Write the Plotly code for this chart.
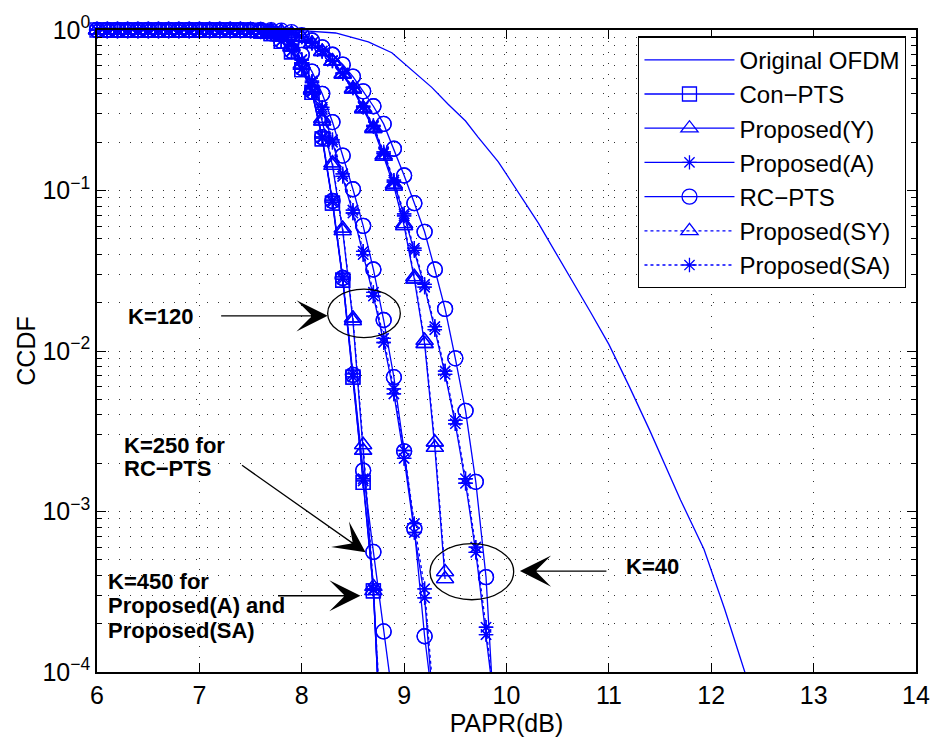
import plotly.graph_objects as go

# ---------------- data ----------------
PAPR_DB = [6.0, 6.1, 6.2, 6.3, 6.4, 6.5, 6.6, 6.7, 6.8, 6.9,
           7.0, 7.1, 7.2, 7.3, 7.4, 7.5, 7.6, 7.7, 7.8, 7.9,
           8.0, 8.1, 8.2, 8.3, 8.4, 8.5, 8.6, 8.7, 8.8, 8.9,
           9.0, 9.1, 9.2, 9.3, 9.4, 9.5, 9.6, 9.7, 9.8, 9.9]

ORIG_X = [6.0, 7.0, 7.5, 8.0, 8.33, 8.65, 8.88, 9.07, 9.27, 9.43, 9.6, 9.72,
          9.92, 10.31, 10.7, 10.82, 11.0, 11.2, 11.4, 11.7, 11.93, 12.13, 12.33]
ORIG_Y = [1, 1, 0.999, 0.99, 0.958, 0.843, 0.722, 0.567, 0.439, 0.345, 0.271, 0.216,
          0.151, 0.0628, 0.0239, 0.0175, 0.011, 0.006, 0.00319, 0.00118, 5.8e-4, 2.48e-4, 9.9e-5]

CON_PTS = [1, 1, 1, 1, 1, 1, 1, 1, 1, 1, 1, 1, 1, 1, 1,
           0.997, 0.985, 0.95, 0.85, 0.73, 0.567, 0.409, 0.21, 0.0834, 0.0276,
           0.00687, 0.00152, 3.2e-4, 1.5e-5]

PROP_Y_K40 = [1, 1, 1, 1, 1, 1, 1, 1, 1, 1, 1, 1, 1, 1, 1,
              1, 0.999, 0.995, 0.98, 0.95, 0.9, 0.82, 0.73, 0.635, 0.528,
              0.427, 0.321, 0.242, 0.1626, 0.106, 0.0602, 0.028, 0.0111, 0.0025, 3.8e-4]
PROP_Y_K120 = [1, 1, 1, 1, 1, 1, 1, 1, 1, 1, 1, 1, 1, 1, 1,
               0.998, 0.99, 0.965, 0.9, 0.78, 0.6, 0.42, 0.27, 0.143, 0.0561,
               0.0154, 0.0024, 3.2e-4, 1.5e-5]

PROP_A_K40 = [1, 1, 1, 1, 1, 1, 1, 1, 1, 1, 1, 1, 1, 1, 1,
              1, 0.999, 0.995, 0.98, 0.952, 0.905, 0.825, 0.735, 0.64, 0.535,
              0.435, 0.33, 0.25, 0.17, 0.113, 0.0694, 0.0423, 0.025, 0.0136, 0.00716,
              0.00352, 0.0015, 5.57e-4, 1.71e-4, 5e-5]
PROP_A_K120 = [1, 1, 1, 1, 1, 1, 1, 1, 1, 1, 1, 1, 1, 1, 1,
               0.998, 0.993, 0.975, 0.92, 0.81, 0.65, 0.47, 0.32, 0.2, 0.1225,
               0.0724, 0.0399, 0.022, 0.0113, 0.0054, 0.00214, 7.4e-4, 2.9e-4, 4.5e-5]
PROP_A_K450 = [1, 1, 1, 1, 1, 1, 1, 1, 1, 1, 1, 1, 1, 1, 1,
               0.997, 0.986, 0.952, 0.853, 0.735, 0.57, 0.41, 0.212, 0.0845, 0.028,
               0.0069, 0.00155, 3.25e-4, 1.6e-5]

RC_K40 = [1, 1, 1, 1, 1, 1, 1, 1, 1, 1, 1, 1, 1, 1, 1,
          1, 1, 0.998, 0.99, 0.97, 0.93, 0.86, 0.78, 0.701, 0.609,
          0.513, 0.415, 0.335, 0.26, 0.182, 0.124, 0.0834, 0.0553, 0.0322, 0.0183,
          0.009, 0.00424, 0.00153, 3.9e-4, 3e-5]
RC_K120 = [1, 1, 1, 1, 1, 1, 1, 1, 1, 1, 1, 1, 1, 1, 1,
           0.999, 0.995, 0.98, 0.94, 0.84, 0.7, 0.55, 0.4, 0.267, 0.165,
           0.1018, 0.0602, 0.0322, 0.0156, 0.00687, 0.00237, 7.8e-4, 1.67e-4, 5e-5]
RC_K250 = [1, 1, 1, 1, 1, 1, 1, 1, 1, 1, 1, 1, 1, 1, 1,
           0.997, 0.986, 0.953, 0.855, 0.74, 0.58, 0.415, 0.215, 0.086, 0.0285,
           0.0071, 0.0018, 5.6e-4, 1.79e-4, 6e-5]

PROP_SY_K40 = [1, 1, 1, 1, 1, 1, 1, 1, 1, 1, 1, 1, 1, 1, 1,
               1, 0.999, 0.995, 0.981, 0.952, 0.903, 0.825, 0.735, 0.64, 0.535,
               0.432, 0.326, 0.246, 0.166, 0.109, 0.062, 0.029, 0.0116, 0.0027, 4.2e-4]
PROP_SY_K120 = [1, 1, 1, 1, 1, 1, 1, 1, 1, 1, 1, 1, 1, 1, 1,
                0.998, 0.99, 0.966, 0.905, 0.79, 0.61, 0.43, 0.28, 0.148, 0.058,
                0.016, 0.0026, 3.4e-4, 2e-5]

PROP_SA_K40 = [1, 1, 1, 1, 1, 1, 1, 1, 1, 1, 1, 1, 1, 1, 1,
               1, 0.999, 0.996, 0.982, 0.955, 0.91, 0.83, 0.74, 0.645, 0.54,
               0.44, 0.335, 0.254, 0.174, 0.116, 0.0715, 0.0437, 0.026, 0.0142, 0.0075,
               0.0037, 0.0016, 6e-4, 1.9e-4, 5e-5]
PROP_SA_K120 = [1, 1, 1, 1, 1, 1, 1, 1, 1, 1, 1, 1, 1, 1, 1,
                0.998, 0.993, 0.976, 0.922, 0.815, 0.655, 0.48, 0.33, 0.207, 0.127,
                0.0755, 0.0418, 0.0232, 0.012, 0.0058, 0.0024, 8.4e-4, 3.3e-4, 5.5e-5]
PROP_SA_K450 = [1, 1, 1, 1, 1, 1, 1, 1, 1, 1, 1, 1, 1, 1, 1,
                0.997, 0.986, 0.953, 0.856, 0.74, 0.575, 0.415, 0.216, 0.087, 0.029,
                0.0072, 0.0016, 3.3e-4, 2.5e-5]

X_TICKS = [6, 7, 8, 9, 10, 11, 12, 13, 14]
Y_TICKS = [1e-4, 1e-3, 1e-2, 1e-1, 1]
Y_TICK_TEXT = ["10<sup>−4</sup>", "10<sup>−3</sup>", "10<sup>−2</sup>",
               "10<sup>−1</sup>", "10<sup>0</sup>"]
Y_MINOR = [m * d for d in (1e-4, 1e-3, 1e-2, 1e-1) for m in (2, 3, 4, 5, 6, 7, 8, 9)]

# ---------------- figure ----------------
BLUE = "#0000FF"
FONT = "Liberation Sans, Arial, Helvetica, sans-serif"
Y_MIN = 1e-4

fig = go.Figure()


def join(curves):
    xs, ys = [], []
    for c in curves:
        xs += PAPR_DB[:len(c)] + [None]
        ys += list(c) + [None]
    return xs[:-1], ys[:-1]


series = [
    ("Con−PTS", [CON_PTS], "square-open", "solid"),
    ("Proposed(Y)", [PROP_Y_K40, PROP_Y_K120], "triangle-up-open", "solid"),
    ("Proposed(A)", [PROP_A_K40, PROP_A_K120, PROP_A_K450], "asterisk-open", "solid"),
    ("RC−PTS", [RC_K40, RC_K120, RC_K250], "circle-open", "solid"),
    ("Proposed(SY)", [PROP_SY_K40, PROP_SY_K120], "triangle-up-open", "dot"),
    ("Proposed(SA)", [PROP_SA_K40, PROP_SA_K120, PROP_SA_K450], "asterisk-open", "dot"),
]
MSIZE = {"square-open": 14, "triangle-up-open": 15, "asterisk-open": 12, "circle-open": 15}

fig.add_trace(go.Scatter(x=ORIG_X, y=ORIG_Y, mode="lines", name="Original OFDM",
                         line=dict(color=BLUE, width=1.3)))

for name, curves, sym, dash in series:
    xs, ys = join(curves)
    fig.add_trace(go.Scatter(
        x=xs, y=ys, mode="lines+markers", name=name, connectgaps=False,
        line=dict(color=BLUE, width=1.3, dash=dash),
        marker=dict(symbol=sym, size=MSIZE[sym], color=BLUE,
                    line=dict(color=BLUE, width=1.3)),
    ))

# full (unclipped) markers for points that are inside the value range
for name, curves, sym, dash in series:
    xs, ys = join(curves)
    mx = [a for a, b in zip(xs, ys) if b is not None and b >= Y_MIN]
    my = [b for b in ys if b is not None and b >= Y_MIN]
    fig.add_trace(go.Scatter(
        x=mx, y=my, mode="markers", showlegend=False, cliponaxis=False,
        hoverinfo="skip",
        marker=dict(symbol=sym, size=MSIZE[sym], color=BLUE,
                    line=dict(color=BLUE, width=1.3)),
    ))

# ---------------- annotations ----------------
ann_font = dict(family=FONT, size=22, color="black")
texts = [
    ("<b>K=120</b>", 6.287, -1.787),
    ("<b>K=250 for</b>", 6.248, -2.589),
    ("<b>RC−PTS</b>", 6.248, -2.730),
    ("<b>K=450 for</b>", 6.083, -3.439),
    ("<b>Proposed(A) and</b>", 6.083, -3.587),
    ("<b>Proposed(SA)</b>", 6.083, -3.741),
    ("<b>K=40</b>", 11.144, -3.345),
]
for t, x, y in texts:
    fig.add_annotation(x=x, y=y, xref="x", yref="y", text=t, showarrow=False,
                       xanchor="left", yanchor="middle", font=ann_font)

arrows = [  # head (data), tail offset in px
    (8.253, -1.781, -108, 0),
    (8.623, -3.254, -125, -88),
    (8.574, -3.525, -84, 0),
    (10.131, -3.371, 88, 0),
]
for x, y, ax, ay in arrows:
    fig.add_annotation(x=x, y=y, xref="x", yref="y", ax=ax, ay=ay,
                       axref="pixel", ayref="pixel", text="", showarrow=True,
                       arrowhead=3, arrowsize=4.0, arrowwidth=1.3, arrowcolor="black",
                       standoff=0)

# ellipses (data coordinates)
fig.add_shape(type="circle", xref="x", yref="y", x0=8.253, x1=8.963,
              y0=0.01211, y1=0.02427, line=dict(color="black", width=1.3))
fig.add_shape(type="circle", xref="x", yref="y", x0=9.2525, x1=10.07,
              y0=2.82e-4, y1=6.3e-4, line=dict(color="black", width=1.3))

GRID = dict(showgrid=True, gridcolor="#333333", gridwidth=1, griddash="1px,10px")

fig.update_layout(
    width=942, height=742,
    margin=dict(l=97, r=23, t=25, b=68),
    paper_bgcolor="white", plot_bgcolor="white",
    font=dict(family=FONT, size=25, color="black"),
    legend=dict(x=0.988, y=0.99, xanchor="right", yanchor="top",
                bgcolor="white", bordercolor="black", borderwidth=1.3,
                font=dict(family=FONT, size=24, color="black"),
                itemwidth=90, tracegroupgap=0),
)
fig.update_xaxes(range=[6, 14], tickmode="array", tickvals=X_TICKS,
                 ticks="inside", ticklen=9, tickwidth=1.3, tickcolor="black",
                 showline=True, linecolor="black", linewidth=1.6, mirror="allticks",
                 zeroline=False, tickfont=dict(size=25),
                 title=dict(text="PAPR(dB)", font=dict(size=25), standoff=4),
                 **GRID)
fig.update_yaxes(type="log", range=[-4, 0], tickmode="array", tickvals=Y_TICKS,
                 ticktext=Y_TICK_TEXT, ticks="inside", ticklen=9, tickwidth=1.3,
                 tickcolor="black", showline=True, linecolor="black", linewidth=1.6,
                 mirror="allticks", zeroline=False, tickfont=dict(size=25),
                 title=dict(text="CCDF", font=dict(size=25), standoff=0),
                 minor=dict(tickmode="array", tickvals=Y_MINOR, ticks="inside",
                            ticklen=5, tickwidth=1.2, tickcolor="black", **GRID),
                 **GRID)

fig.write_html("out.html")
